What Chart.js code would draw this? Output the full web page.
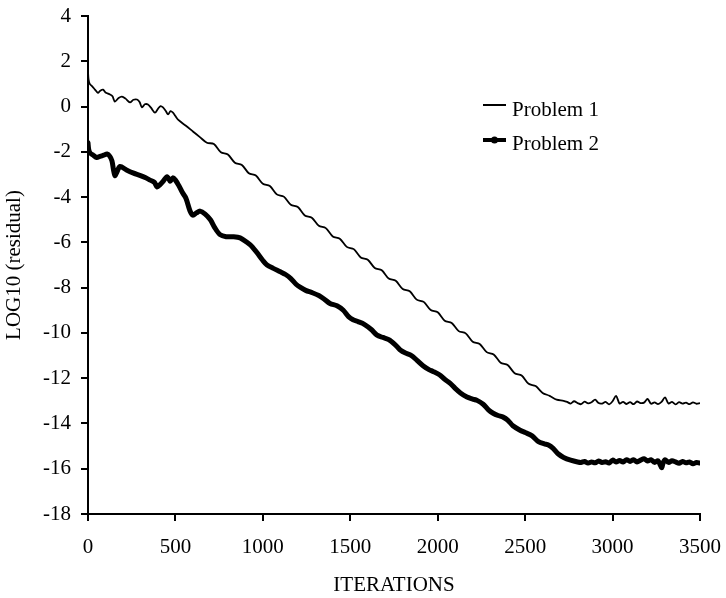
<!DOCTYPE html>
<html>
<head>
<meta charset="utf-8">
<script src="https://cdn.jsdelivr.net/npm/chart.js@4.4.1/dist/chart.umd.min.js"></script>
<style>
  html, body { margin: 0; padding: 0; background: #fff; }
</style>
</head>
<body>
<canvas id="residualChart" width="726" height="598"></canvas>
<script>
// ==========================================
// RESIDUAL CONVERGENCE (Chart.js line chart)
// ==========================================

const seriesNames = ['Problem 1', 'Problem 2'];
const xTicks = [0, 500, 1000, 1500, 2000, 2500, 3000, 3500];
const yTicks = [4, 2, 0, -2, -4, -6, -8, -10, -12, -14, -16, -18];

// Problem 1 (thin line)
const iterations1 = [
  0, 3, 10, 23, 40, 57, 70, 86, 100, 126, 140, 154, 175, 194, 215, 240, 260, 280, 295, 309,
  325, 343, 360, 383, 400, 415, 429, 445, 458, 472, 486, 500, 515,
  560, 600, 640, 680, 720, 760, 800, 840, 880, 920, 960, 1000, 1040, 1080, 1120, 1160, 1200,
  1240, 1280, 1320, 1360, 1400, 1440, 1480, 1520, 1560, 1600, 1640, 1680, 1720, 1760, 1800,
  1840, 1880, 1920, 1960, 2000, 2040, 2080, 2120, 2160, 2200, 2240, 2280, 2320, 2360, 2400,
  2440, 2480, 2520, 2560, 2600, 2640, 2680, 2720,
  2740, 2760, 2780, 2800, 2820, 2840, 2860, 2880, 2900, 2920, 2940, 2960, 2980, 3000, 3020,
  3040, 3060, 3080, 3100, 3120, 3140, 3160, 3180, 3200, 3220, 3240, 3260, 3280, 3300, 3320,
  3340, 3360, 3380, 3400, 3420, 3440, 3460, 3480, 3500,
];
const residual1 = [
  1.55, 1.2, 1.0, 0.9, 0.75, 0.6, 0.7, 0.75, 0.62, 0.53, 0.45, 0.22, 0.38, 0.44, 0.35, 0.18, 0.3, 0.31, 0.2, -0.04,
  0.1, 0.09, -0.05, -0.27, -0.1, 0.02, -0.04, -0.2, -0.35, -0.2, -0.27, -0.42, -0.58,
  -0.85, -1.1, -1.35, -1.6, -1.65, -2.02, -2.12, -2.48, -2.58, -2.95, -3.05, -3.41, -3.51, -3.88, -3.98, -4.34, -4.44,
  -4.81, -4.91, -5.27, -5.37, -5.74, -5.84, -6.2, -6.3, -6.67, -6.77, -7.13, -7.23, -7.6, -7.7, -8.06,
  -8.16, -8.53, -8.63, -8.99, -9.09, -9.46, -9.56, -9.92, -10.02, -10.39, -10.49, -10.85, -10.95, -11.32, -11.42,
  -11.78, -11.88, -12.25, -12.35, -12.65, -12.78, -12.95, -13.0,
  -13.05, -13.12, -13.02, -13.1, -13.15, -13.04, -13.11, -13.06, -12.95, -13.1, -13.12, -13.05, -13.16, -13.02, -12.78,
  -13.12, -13.05, -13.14, -13.06, -13.15, -13.03, -13.1, -13.08, -12.92, -13.13, -13.07, -13.15, -13.05, -12.85, -13.12,
  -13.05, -13.16, -13.06, -13.12, -13.08, -13.15, -13.07, -13.13, -13.1,
];

// Problem 2 (thick line)
const iterations2 = [
  0, 4, 12, 30, 50, 69, 90, 109, 125, 137, 146, 154, 165, 183, 220, 257, 300, 330, 355, 380,
  395, 412, 430, 452, 470, 485, 500, 520, 540, 560, 583, 600, 620, 641, 670, 700, 725, 755, 790, 830,
  870, 909, 940, 967, 1000, 1024, 1060, 1100, 1130, 1160, 1190, 1213, 1245, 1281, 1320, 1350, 1384, 1424, 1460, 1490,
  1516, 1544, 1580, 1620, 1653, 1687, 1720, 1760, 1790, 1813, 1850, 1880, 1916, 1950, 1973, 2010, 2040, 2070, 2100, 2130,
  2167, 2200, 2225, 2260, 2290, 2317, 2345, 2374, 2400, 2430, 2471, 2500, 2540, 2576, 2610, 2633, 2660, 2690, 2720, 2760,
  2800, 2820, 2840, 2860, 2880, 2900, 2920, 2940, 2960, 2980, 3000, 3020, 3040, 3060, 3080, 3100, 3120, 3140, 3160, 3180,
  3200, 3220, 3240, 3260, 3280, 3290, 3300, 3320, 3340, 3360, 3380, 3400, 3420, 3440, 3460, 3480, 3500,
];
const residual2 = [
  -1.6, -1.9, -2.05, -2.15, -2.25, -2.2, -2.15, -2.1, -2.2, -2.4, -2.8, -3.05, -2.9, -2.65, -2.8, -2.93, -3.05, -3.15, -3.25, -3.35,
  -3.55, -3.45, -3.3, -3.1, -3.3, -3.15, -3.25, -3.5, -3.8, -4.05, -4.6, -4.8, -4.7, -4.62, -4.75, -5.0, -5.35, -5.66, -5.75, -5.75,
  -5.8, -6.0, -6.2, -6.46, -6.8, -7.0, -7.15, -7.3, -7.42, -7.6, -7.85, -7.98, -8.12, -8.22, -8.35, -8.5, -8.7, -8.8, -9.0, -9.28,
  -9.42, -9.5, -9.62, -9.85, -10.1, -10.2, -10.3, -10.55, -10.78, -10.88, -11.0, -11.2, -11.45, -11.62, -11.7, -11.85, -12.05, -12.22, -12.45, -12.65,
  -12.83, -12.92, -12.98, -13.15, -13.4, -13.55, -13.65, -13.72, -13.85, -14.1, -14.3, -14.4, -14.55, -14.8, -14.9, -14.95, -15.1, -15.35, -15.5, -15.62,
  -15.7, -15.72, -15.68, -15.75, -15.7, -15.74, -15.66, -15.72, -15.69, -15.75, -15.62, -15.7, -15.64, -15.7, -15.6, -15.68, -15.6, -15.7, -15.62, -15.56,
  -15.66, -15.6, -15.72, -15.65, -15.95, -15.72, -15.6, -15.72, -15.65, -15.7, -15.76, -15.68, -15.74, -15.7, -15.78, -15.72, -15.75,
];

const serifFont = "'Liberation Serif', 'Times New Roman', serif";

function toPoints(xs, ys) {
  return xs.map((x, i) => ({ x: x, y: ys[i] }));
}

// legend drawn inside the plot, like the original figure
const insideLegend = {
  id: 'insideLegend',
  afterDraw(chart) {
    const ctx = chart.ctx;
    const rows = [
      { lineY: 105, textY: 116 },
      { lineY: 140, textY: 150 },
    ];
    ctx.save();
    ctx.fillStyle = '#000';
    ctx.strokeStyle = '#000';
    ctx.font = '21px ' + serifFont;
    ctx.textBaseline = 'alphabetic';
    chart.data.datasets.forEach((ds, i) => {
      const r = rows[i];
      ctx.lineWidth = i === 0 ? 2 : 4;
      ctx.beginPath();
      ctx.moveTo(483, r.lineY);
      ctx.lineTo(506, r.lineY);
      ctx.stroke();
      if (i === 1) {
        ctx.beginPath();
        ctx.arc(494.5, r.lineY, 3.5, 0, Math.PI * 2);
        ctx.fill();
      }
      ctx.fillText(ds.label, 512, r.textY);
    });
    ctx.restore();
  },
};

const residualData = {
  datasets: [
    {
      label: seriesNames[0],
      data: toPoints(iterations1, residual1),
      borderColor: '#000',
      borderWidth: 1.8,
      pointRadius: 0,
      tension: 0.3,
      fill: false,
    },
    {
      label: seriesNames[1],
      data: toPoints(iterations2, residual2),
      borderColor: '#000',
      borderWidth: 5,
      borderJoinStyle: 'round',
      borderCapStyle: 'round',
      pointRadius: 0,
      tension: 0.3,
      fill: false,
    },
  ],
};

const residualConfig = {
  type: 'line',
  data: residualData,
  options: {
    responsive: false,
    animation: false,
    devicePixelRatio: 1,
    layout: {
      padding: { left: 0, right: 26, top: 16, bottom: 0 },
    },
    plugins: {
      legend: { display: false },
      tooltip: { enabled: false },
    },
    scales: {
      x: {
        type: 'linear',
        min: xTicks[0],
        max: xTicks[xTicks.length - 1],
        afterBuildTicks: function (scale) {
          scale.ticks = xTicks.map((v) => ({ value: v }));
        },
        afterFit: function (scale) {
          scale.height = 84;
          scale.paddingLeft = 0;
          scale.paddingRight = 0;
        },
        ticks: {
          color: '#000',
          font: { family: serifFont, size: 21 },
          padding: 14,
          maxRotation: 0,
          callback: function (value) {
            return String(value);
          },
        },
        grid: {
          drawOnChartArea: false,
          drawTicks: true,
          tickLength: 7,
          color: '#000',
          lineWidth: 2,
        },
        border: { color: '#000', width: 2 },
        title: {
          display: true,
          text: 'ITERATIONS',
          color: '#000',
          font: { family: serifFont, size: 21 },
          padding: { top: 0, bottom: 0 },
        },
      },
      y: {
        type: 'linear',
        min: yTicks[yTicks.length - 1],
        max: yTicks[0],
        afterBuildTicks: function (scale) {
          scale.ticks = yTicks.map((v) => ({ value: v }));
        },
        afterFit: function (scale) {
          scale.width = 88;
          scale.paddingTop = 0;
          scale.paddingBottom = 0;
        },
        ticks: {
          color: '#000',
          font: { family: serifFont, size: 21 },
          padding: 10,
          callback: function (value) {
            return String(value);
          },
        },
        grid: {
          drawOnChartArea: false,
          drawTicks: true,
          tickLength: 7,
          color: '#000',
          lineWidth: 2,
        },
        border: { color: '#000', width: 2 },
        title: {
          display: true,
          text: 'LOG10 (residual)',
          color: '#000',
          font: { family: serifFont, size: 21 },
          padding: { top: 2, bottom: 0 },
        },
      },
    },
  },
  plugins: [insideLegend],
};

const residualChart = new Chart(
  document.getElementById('residualChart'),
  residualConfig
);
</script>
</body>
</html>
